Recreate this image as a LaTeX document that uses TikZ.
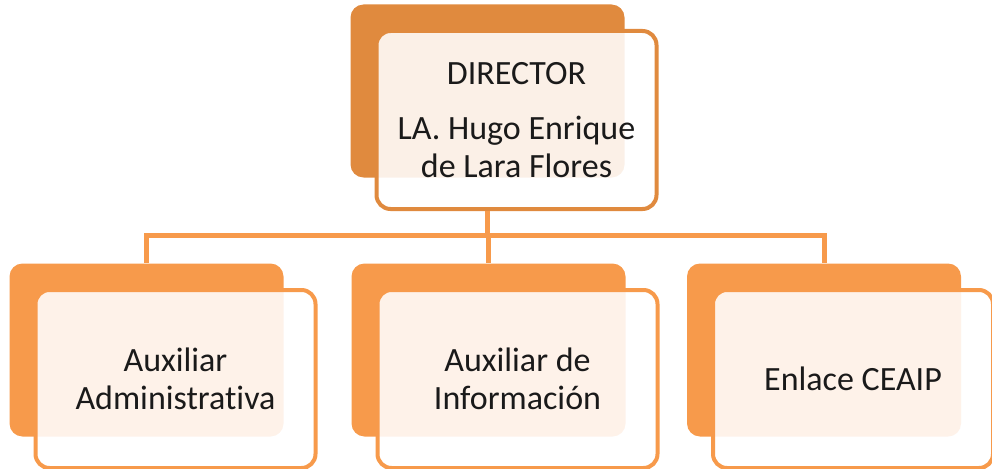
\documentclass[tikz,border=0pt]{standalone}
\usepackage{fontspec}
\setmainfont{Carlito}[Ligatures=NoCommon]
\usepackage{tikz}
\definecolor{aa}{RGB}{224, 138, 62}
\definecolor{bb}{RGB}{247, 154, 75}
\definecolor{tt}{RGB}{26, 26, 26}
\usetikzlibrary{positioning}
\def\height{173pt}
\def\width{274pt}
\newcommand{\orgbox}[5]{\node[minimum height=\height,minimum width=\width,rectangle,rounded corners=13pt,fill=#5,inner sep=0pt] (#3b) at (#1,#2) {};
	\node[minimum height=\height+5pt,minimum width=\width+6pt,rectangle,rounded corners=14pt,draw=#5,line width=4pt,fill=white,fill opacity=0.88,text opacity=1,text=tt,align=center,inner sep=0pt,xshift=29pt,yshift=-29pt,font=\fontsize{34}{38}\selectfont] (#3) at (#1,#2) {#4}; }

\begin{document}
\begin{tikzpicture}[x=1pt,y=-1pt]
				\useasboundingbox (0,0) rectangle (992,468);
				\orgbox{487.5}{91}{dir}{DIRECTOR\\[17pt]LA. Hugo Enrique\\de Lara Flores}{aa}
				\orgbox{146.5}{350}{aux}{Auxiliar\\Administrativa}{bb}
				\orgbox{488.5}{350}{inf}{Auxiliar de\\Información}{bb}
				\orgbox{824}{350}{enl}{Enlace CEAIP}{bb}

				\coordinate (bus) at (487.5,235);
				\draw[line width=5pt,color=bb] (dirb.south |- dir.south) -- (bus);
				\draw[line width=5pt,color=bb] (bus) -| (auxb.north);
				\draw[line width=5pt,color=bb] (bus) -| (infb.north);
				\draw[line width=5pt,color=bb] (bus) -| (enlb.north);
			\end{tikzpicture}
\end{document}
